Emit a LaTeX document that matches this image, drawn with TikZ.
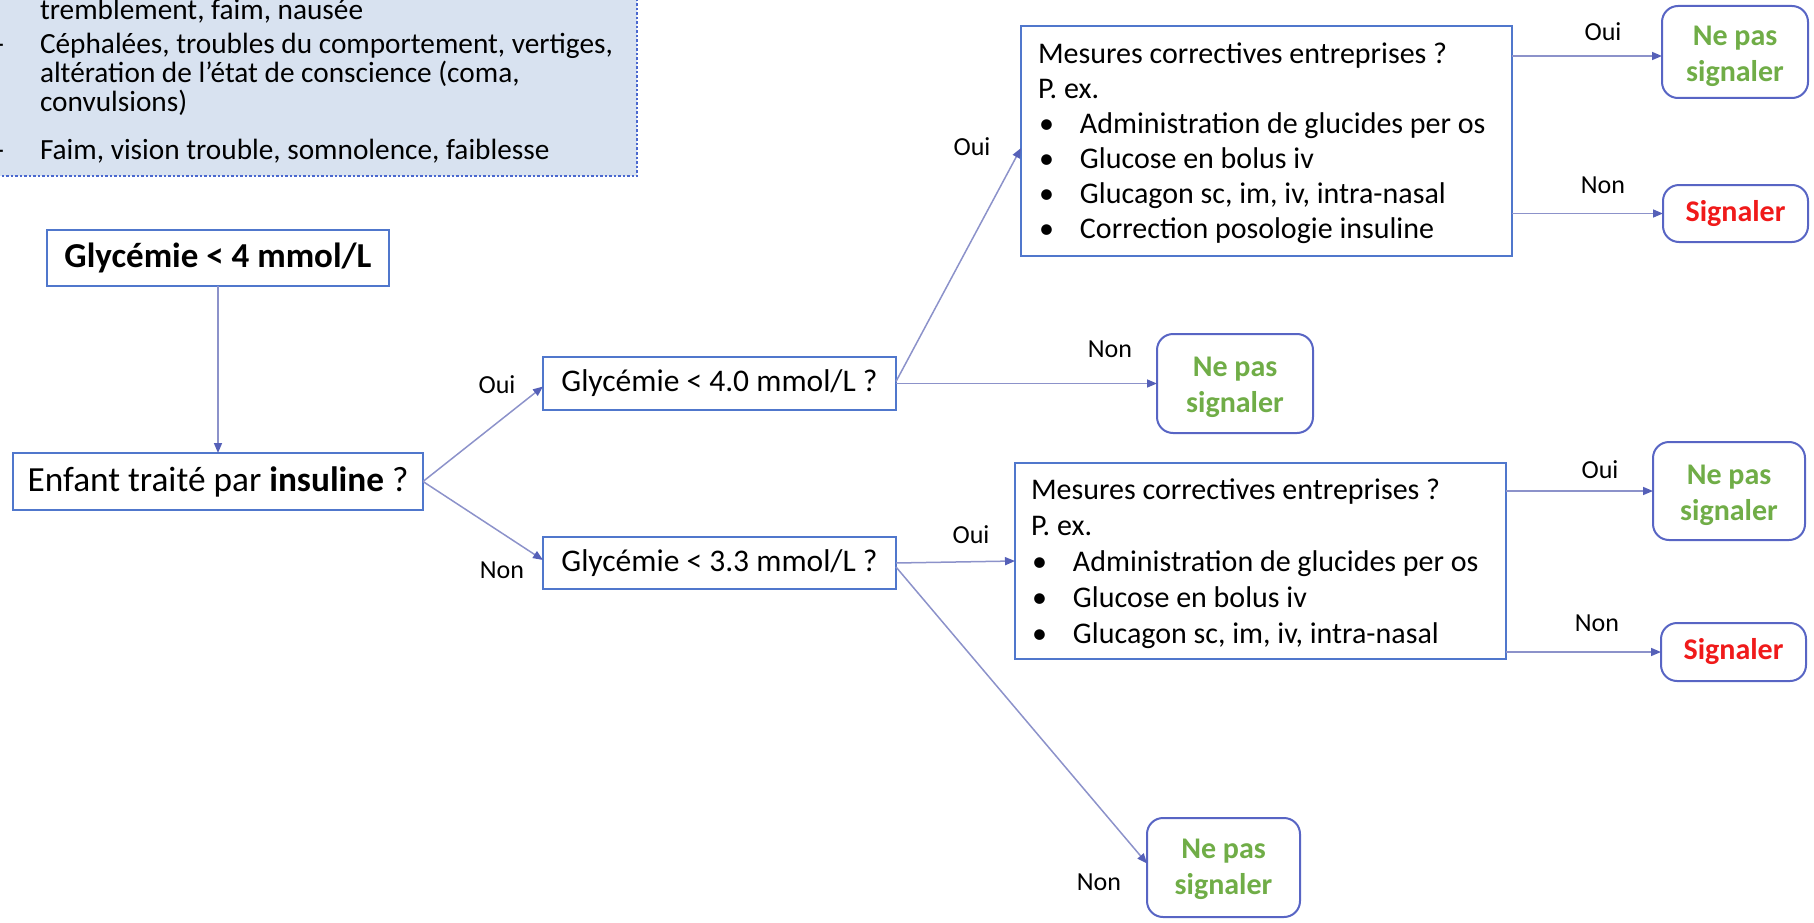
\documentclass[tikz,border=0pt]{standalone}
\usepackage{fontspec}
\setmainfont{Carlito}
\usetikzlibrary{arrows.meta}

\definecolor{boxblue}{HTML}{5077CC}
\definecolor{linkblue}{HTML}{8C92CA}
\definecolor{tipblue}{HTML}{5560B8}
\definecolor{roundblue}{HTML}{5865C4}
\definecolor{okgreen}{HTML}{70AD47}
\definecolor{alertred}{HTML}{F01A1A}
\definecolor{notefill}{HTML}{D8E2F0}
\definecolor{notedot}{HTML}{4A68CF}

\newcommand\blt{\makebox[42pt][l]{\hspace{1pt}•}}

\begin{document}
\frenchspacing
\begin{tikzpicture}[x=1pt,y=-1pt,
  every node/.style={inner sep=0pt, outer sep=0pt},
  txt/.style={font=\fontsize{30}{35}\selectfont},
  notetxt/.style={font=\fontsize{29.3}{29}\selectfont, anchor=base west},
  qbox/.style={draw=boxblue, line width=1.6pt, fill=white},
  endbox/.style={draw=roundblue, line width=2pt, rounded corners=16pt, fill=white},
  endtxt/.style={align=center, font=\fontsize{30}{36}\selectfont\bfseries},
  lbl/.style={font=\fontsize{26}{30}\selectfont},
  link/.style={draw=linkblue, line width=1.5pt,
    -{Triangle[length=10pt,width=8pt,color=tipblue]}},
]
\useasboundingbox (0,0) rectangle (1814,923);

% information panel (partly outside the page)
\fill[notefill] (-10,-10) rectangle (637,176);
\draw[notedot, line width=2.5pt, dash pattern=on 2.5pt off 2pt] (637,-10) -- (637,176) -- (-10,176);
\node[notetxt] (n1) at (40,20) {tremblement, faim, nausée};
\node[notetxt] (n2) at (40,54) {Céphalées, troubles du comportement, vertiges,};
\node[notetxt] (n3) at (40,83) {altération de l’état de conscience (coma,};
\node[notetxt] (n4) at (40,112) {convulsions)};
\node[notetxt] (n5) at (40,159) {Faim, vision trouble, somnolence, faiblesse};
\node[font=\fontsize{29}{29}\selectfont, anchor=base east] (d1) at (4,54) {-};
\node[font=\fontsize{29}{29}\selectfont, anchor=base east] (d2) at (4,159) {-};

% decision boxes
\node[qbox, minimum width=342pt, minimum height=56pt, font=\fontsize{35}{40}\selectfont\bfseries]
  (thr) at (218,258) {Glycémie < 4 mmol/L};
\node[qbox, minimum width=410pt, minimum height=57pt, font=\fontsize{35.3}{42}\selectfont]
  (enf) at (218,481.5) {Enfant traité par \textbf{insuline} ?};
\node[qbox, minimum width=353pt, minimum height=53pt, font=\fontsize{31.5}{36}\selectfont]
  (g40) at (719.5,383.5) {Glycémie < 4.0 mmol/L ?};
\node[qbox, minimum width=353pt, minimum height=52pt, font=\fontsize{31.5}{36}\selectfont]
  (g33) at (719.5,563) {Glycémie < 3.3 mmol/L ?};

\node[qbox, minimum width=491pt, minimum height=230pt] (m1) at (1266.5,141) {};
\node[txt, align=left, anchor=west] (m1t) at ([xshift=17pt,yshift=-2pt]m1.west)
  {Mesures correctives entreprises ?\\
  P. ex.\\
  \blt Administration de glucides per os\\
  \blt Glucose en bolus iv\\
  \blt Glucagon sc, im, iv, intra-nasal\\
  \blt Correction posologie insuline};
\node[qbox, minimum width=491pt, minimum height=196pt] (m2) at (1260.5,561) {};
\node[txt, font=\fontsize{30}{36}\selectfont, align=left, anchor=west] (m2t) at ([xshift=16pt,yshift=-3pt]m2.west)
  {Mesures correctives entreprises ?\\
  P. ex.\\
  \blt Administration de glucides per os\\
  \blt Glucose en bolus iv\\
  \blt Glucagon sc, im, iv, intra-nasal};

% outcome boxes
\node[endbox, minimum width=146pt, minimum height=92pt] (nps1) at (1735,52) {};
\node[endbox, minimum width=145pt, minimum height=57pt] (sig1) at (1735.5,213.5) {};
\node[endbox, minimum width=156pt, minimum height=99pt] (nps2) at (1235,383.5) {};
\node[endbox, minimum width=152pt, minimum height=98pt] (nps4) at (1729,491) {};
\node[endbox, minimum width=145pt, minimum height=58pt] (sig2) at (1733.5,652) {};
\node[endbox, minimum width=153pt, minimum height=99pt] (nps3) at (1223.5,867.5) {};
\node[endtxt, text=okgreen] (nps1t) at ([yshift=-4pt]nps1.center) {Ne pas\\signaler};
\node[endtxt, text=alertred] (sig1t) at (sig1.center) {Signaler};
\node[endtxt, text=okgreen] (nps2t) at ([yshift=-4pt]nps2.center) {Ne pas\\signaler};
\node[endtxt, text=okgreen] (nps4t) at ([yshift=-4pt]nps4.center) {Ne pas\\signaler};
\node[endtxt, text=alertred] (sig2t) at (sig2.center) {Signaler};
\node[endtxt, text=okgreen] (nps3t) at ([yshift=-2pt]nps3.center) {Ne pas\\signaler};

% connectors
\coordinate (y1) at (0,56);
\draw[link] (thr.south) -- (enf.north);
\draw[link] (enf.east) -- ([yshift=-3pt]g40.west);
\draw[link] (enf.east) -- ([yshift=3pt]g33.west);
\draw[link] ([yshift=2pt]g40.east) -- ([yshift=-7pt]m1.west);
\draw[link] (g40.east) -- (nps2.west);
\draw[link] (g33.east) -- (m2.west);
\draw[link] ([yshift=-4pt]g33.east) -- ([yshift=4pt]nps3.west);
\draw[link] (m1.east |- y1) -- (nps1.west |- y1);
\draw[link] (m1.east |- sig1.west) -- (sig1.west);
\draw[link] (m2.east |- nps4.west) -- (nps4.west);
\draw[link] (m2.east |- sig2.west) -- (sig2.west);

% branch labels
\node[lbl] (l1) at (497,385) {Oui};
\node[lbl] (l2) at (502,570) {Non};
\node[lbl] (l3) at (972,147) {Oui};
\node[lbl] (l4) at (1110,349) {Non};
\node[lbl] (l5) at (971,535) {Oui};
\node[lbl] (l6) at (1099,882) {Non};
\node[lbl] (l7) at (1603,32) {Oui};
\node[lbl] (l8) at (1603,185) {Non};
\node[lbl] (l9) at (1600,470) {Oui};
\node[lbl] (l10) at (1597,623) {Non};
\end{tikzpicture}
\end{document}
